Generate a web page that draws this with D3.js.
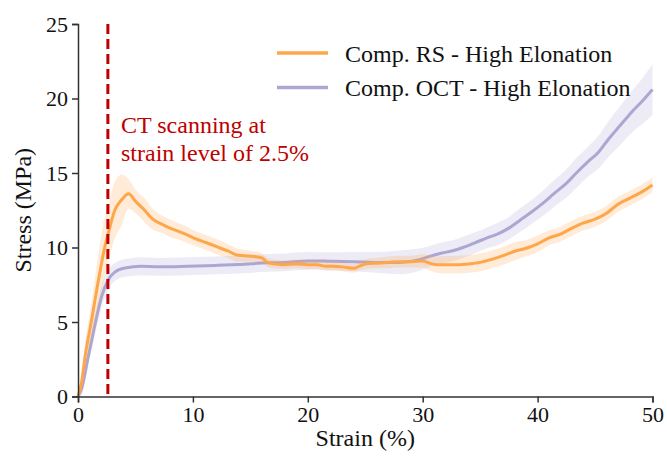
<!DOCTYPE html>
<html>
<head>
<meta charset="utf-8">
<script src="https://cdn.jsdelivr.net/npm/d3@7"></script>
<style>
    body { margin: 0; background: #ffffff; }
    svg text { font-family: "Liberation Serif", "Times New Roman", serif; }
</style>
</head>
<body>
<div id="chart"></div>
<script>
// Composite RS - mean stress and std band
const rsStrain = [0, 0.3, 0.6, 1.2, 1.8, 2.35, 2.65, 3.2, 3.8, 4.4, 5.0, 5.8, 6.5, 7.2, 8.0, 8.7, 9.5,
    10.2, 10.9, 11.6, 12.4, 13.1, 13.8, 14.5, 15.3, 16.0, 16.4, 17.0, 17.9, 19.0, 20.0, 20.8, 21.5,
    22.2, 23.0, 24.0, 24.5, 25.1, 26.0, 27.0, 28.0, 29.0, 30.0, 30.6, 31.2, 32.0, 33.0, 34.0, 35.0,
    36.0, 37.0, 38.0, 39.0, 40.0, 41.0, 42.0, 43.0, 44.0, 45.0, 46.0, 47.0, 48.0, 49.0, 50.0];
const rsStress = [0, 0.9, 2.6, 5.2, 7.9, 10.1, 11.0, 12.5, 13.2, 13.6, 13.1, 12.5, 11.9, 11.6, 11.3, 11.1, 10.85,
    10.6, 10.4, 10.2, 9.95, 9.75, 9.5, 9.45, 9.4, 9.3, 9.05, 8.9, 8.85, 8.9, 8.85, 8.85, 8.75,
    8.75, 8.7, 8.6, 8.75, 8.9, 8.95, 9.0, 9.05, 9.05, 9.1, 8.95, 8.85, 8.85, 8.85, 8.9, 9.0,
    9.2, 9.45, 9.75, 9.95, 10.25, 10.65, 10.9, 11.3, 11.65, 11.9, 12.3, 12.9, 13.3, 13.7, 14.2];
const rsStd = [0.1, 0.5, 0.8, 1.2, 1.8, 2.0, 1.9, 1.9, 1.7, 1.0, 0.8, 0.8, 0.7, 0.6, 0.6, 0.55, 0.55,
    0.5, 0.5, 0.5, 0.5, 0.45, 0.45, 0.4, 0.35, 0.3, 0.3, 0.3, 0.3, 0.3, 0.3, 0.3, 0.3,
    0.3, 0.3, 0.3, 0.3, 0.35, 0.35, 0.4, 0.4, 0.4, 0.45, 0.5, 0.55, 0.6, 0.6, 0.6, 0.6,
    0.6, 0.6, 0.6, 0.55, 0.55, 0.5, 0.5, 0.5, 0.5, 0.5, 0.5, 0.5, 0.5, 0.5, 0.5];

// Composite OCT - mean stress and std band
const octStrain = [0, 0.3, 0.9, 1.5, 2.05, 2.65, 3.2, 4.1, 5.5, 7.0, 9.5, 12.0, 14.0, 16.5, 18.0, 20.0,
    21.9, 24.0, 26.0, 28.0, 29.8, 30.6, 31.5, 32.7, 33.5, 34.5, 35.6, 36.5, 37.5, 38.5, 39.5, 40.5,
    41.4, 42.5, 43.5, 44.3, 45.3, 46.2, 47.2, 48.2, 49.2, 50.0];
const octStress = [0, 0.5, 2.7, 4.9, 6.7, 7.85, 8.35, 8.63, 8.74, 8.7, 8.74, 8.8, 8.86, 8.97, 9.0, 9.1,
    9.08, 9.05, 9.0, 9.0, 9.2, 9.4, 9.6, 9.8, 10.0, 10.3, 10.65, 10.9, 11.3, 11.85, 12.4, 13.0,
    13.6, 14.3, 15.1, 15.7, 16.4, 17.3, 18.2, 19.1, 19.9, 20.6];
const octStd = [0.2, 0.4, 0.6, 0.7, 0.7, 0.7, 0.6, 0.6, 0.6, 0.6, 0.6, 0.6, 0.6, 0.6, 0.6, 0.6,
    0.6, 0.65, 0.7, 0.8, 0.75, 0.7, 0.7, 0.7, 0.7, 0.7, 0.7, 0.75, 0.75, 0.8, 0.8, 0.85,
    0.9, 0.95, 1.0, 1.0, 1.1, 1.2, 1.3, 1.4, 1.55, 1.7];

const xTicks = [0, 10, 20, 30, 40, 50];
const yTicks = [0, 5, 10, 15, 20, 25];
const legendLabels = ["Comp. RS - High Elonation", "Comp. OCT - High Elonation"];
const scanStrain = 2.6;
const scanLabel = ["CT scanning at", "strain level of 2.5%"];

const width = 667,
    height = 457,
    margin = {top: 24, right: 15, bottom: 60, left: 78};

const svg = d3.select("#chart").append("svg")
    .attr("width", width)
    .attr("height", height);

const x = d3.scaleLinear().domain([0, 50]).range([margin.left, 652.5]);
const y = d3.scaleLinear().domain([0, 25]).range([396.5, margin.top]);

const zip = (xs, ms, ss) => xs.map((v, i) => ({x: v, m: ms[i], s: ss[i]}));
const series = [
    {name: legendLabels[1], data: zip(octStrain, octStress, octStd), line: "#aca6d3", band: "rgba(172,166,211,0.22)"},
    {name: legendLabels[0], data: zip(rsStrain, rsStress, rsStd), line: "#fea64a", band: "rgba(254,166,74,0.22)"}
];

const area = d3.area()
    .curve(d3.curveMonotoneX)
    .x(d => x(d.x))
    .y0(d => y(Math.max(0, d.m - d.s)))
    .y1(d => y(d.m + d.s));
const line = d3.line()
    .curve(d3.curveMonotoneX)
    .x(d => x(d.x))
    .y(d => y(d.m));

for (const s of series) {
    svg.append("path")
        .attr("d", area(s.data))
        .attr("fill", s.band);
    svg.append("path")
        .attr("d", line(s.data))
        .attr("fill", "none")
        .attr("stroke", s.line)
        .attr("stroke-width", 3)
        .attr("stroke-linejoin", "round");
}

// Scan marker
svg.append("line")
    .attr("x1", x(scanStrain)).attr("x2", x(scanStrain))
    .attr("y1", y(25)).attr("y2", y(0))
    .attr("stroke", "#c00000")
    .attr("stroke-width", 3)
    .attr("stroke-dasharray", "10,5");
svg.selectAll(".scan-label")
    .data(scanLabel)
    .join("text")
    .attr("x", 121)
    .attr("y", (d, i) => 132.5 + i * 28)
    .attr("fill", "#c00000")
    .attr("font-size", 24)
    .text(d => d);

// Axes
const xAxis = svg.append("g")
    .attr("transform", `translate(0,${y(0)})`)
    .call(d3.axisBottom(x).tickValues(xTicks).tickSize(6).tickPadding(4));
const yAxis = svg.append("g")
    .attr("transform", `translate(${x(0)},0)`)
    .call(d3.axisLeft(y).tickValues(yTicks).tickSize(6).tickPadding(4));
for (const ax of [xAxis, yAxis]) {
    ax.select(".domain").attr("stroke", "#333").attr("stroke-width", 1.5);
    ax.selectAll(".tick line").attr("stroke", "#333").attr("stroke-width", 1.5);
    ax.selectAll(".tick text")
        .attr("fill", "#111")
        .attr("font-size", 22);
}

svg.append("text")
    .attr("x", (x(0) + x(50)) / 2)
    .attr("y", 446)
    .attr("text-anchor", "middle")
    .attr("font-size", 24)
    .attr("fill", "#111")
    .text("Strain (%)");
svg.append("text")
    .attr("transform", `translate(31,${(y(0) + y(25)) / 2}) rotate(-90)`)
    .attr("text-anchor", "middle")
    .attr("font-size", 24)
    .attr("fill", "#111")
    .text("Stress (MPa)");

// Legend
const legend = svg.append("g");
[series[1], series[0]].forEach((s, i) => {
    legend.append("line")
        .attr("x1", 277).attr("x2", 328)
        .attr("y1", 53 + i * 34.5).attr("y2", 53 + i * 34.5)
        .attr("stroke", s.line)
        .attr("stroke-width", 3.5);
    legend.append("text")
        .attr("x", 345)
        .attr("y", 61.5 + i * 34.5)
        .attr("font-size", 24)
        .attr("fill", "#111")
        .text(s.name);
});
</script>
</body>
</html>
